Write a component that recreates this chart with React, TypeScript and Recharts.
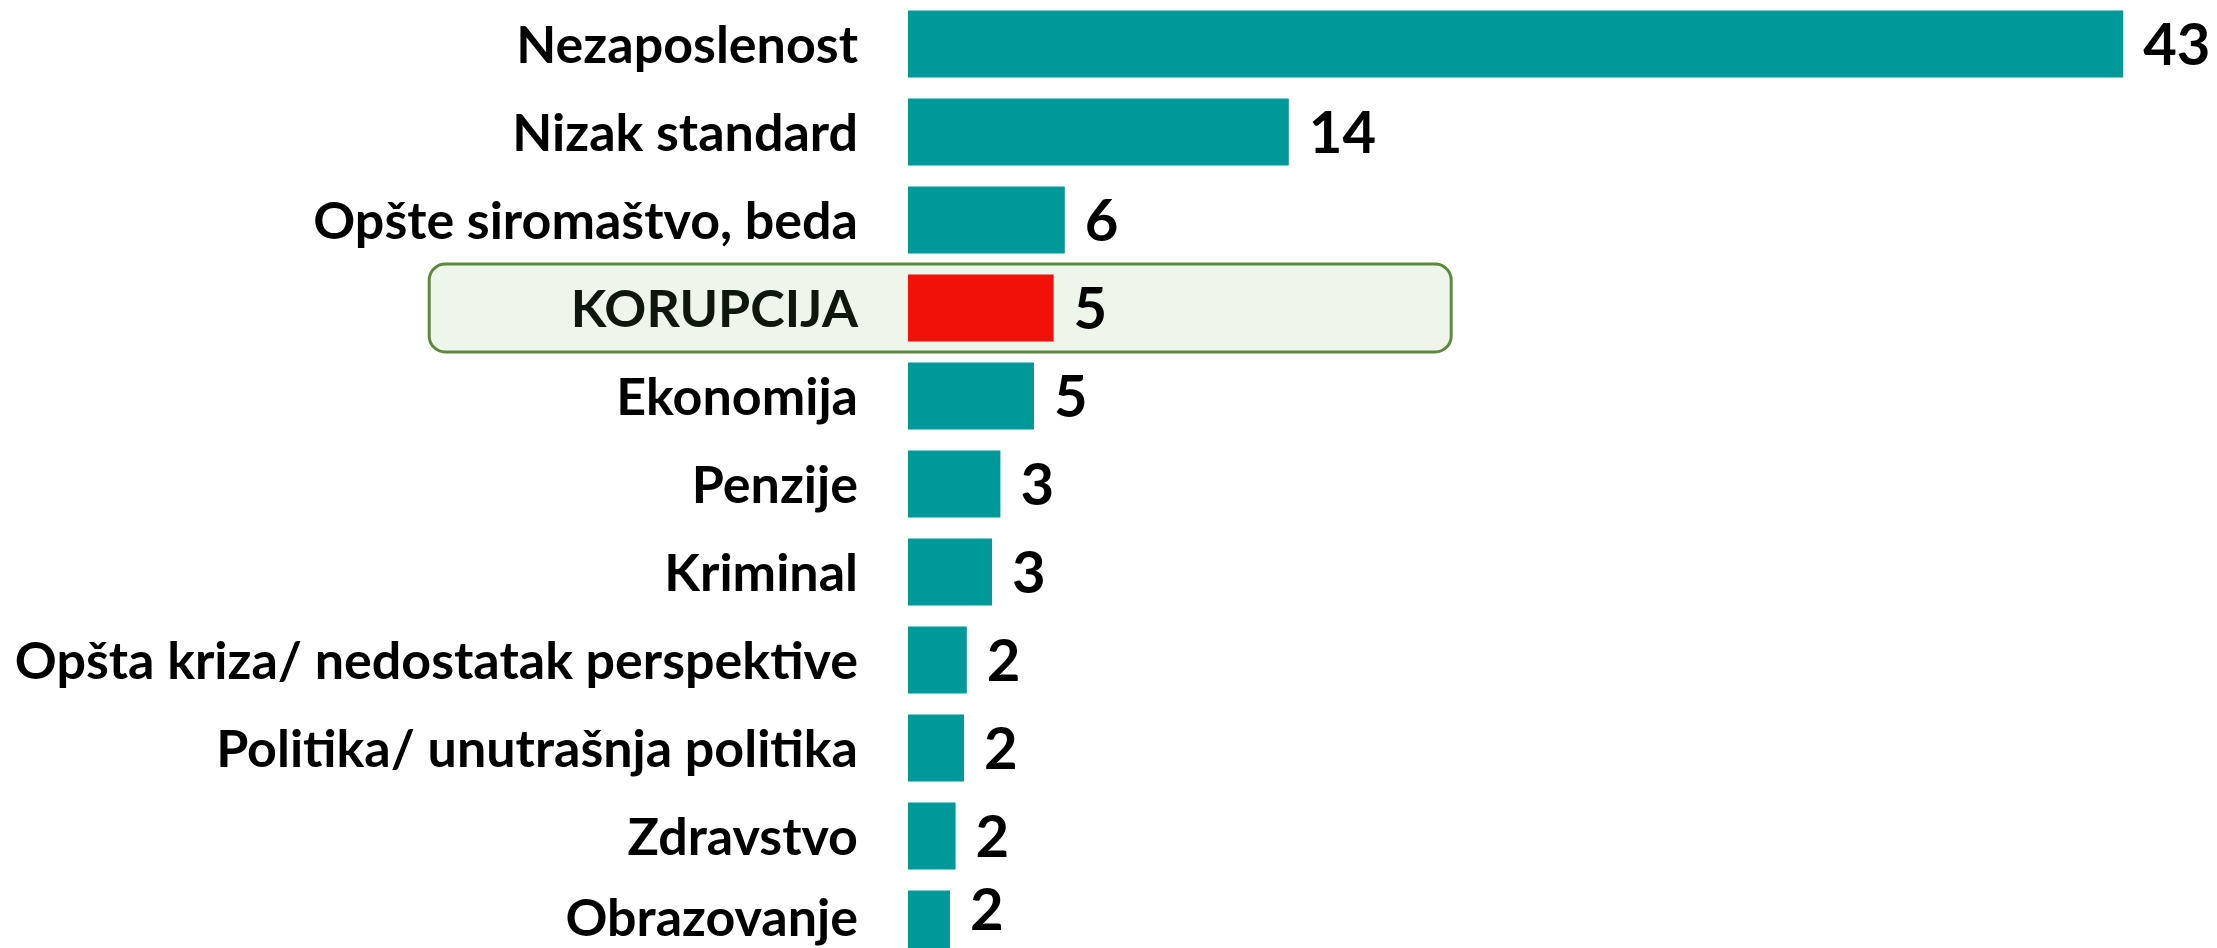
import React from 'react';
import { BarChart, Bar, XAxis, YAxis, Cell, LabelList, ReferenceArea } from 'recharts';

// problem categories, top to bottom
const categories = [
  'Nezaposlenost',
  'Nizak standard',
  'Opšte siromaštvo, beda',
  'KORUPCIJA',
  'Ekonomija',
  'Penzije',
  'Kriminal',
  'Opšta kriza/ nedostatak perspektive',
  'Politika/ unutrašnja politika',
  'Zdravstvo',
  'Obrazovanje',
];
// share in % (labels are rounded)
const shares = [43.4, 13.6, 5.6, 5.2, 4.5, 3.3, 3.0, 2.1, 2.0, 1.7, 1.5];
const highlighted = 'KORUPCIJA';
// horizontal extent of the highlight box, in axis units
const highlightFrom = -17.1;
const highlightTo = 19.4;

const data = categories.map((name, i) => ({ name, value: shares[i] }));

const FONT = 'Lato, "Open Sans", sans-serif';
const VISIBLE_H = 948;

const CategoryTick = (props: any) => {
  const { x, y, payload } = props;
  const isHi = payload.value === highlighted;
  // last row is cut by the page edge, keep its label readable
  const cy = Math.min(y, VISIBLE_H - 31);
  return (
    <text
      x={x}
      y={cy}
      dy="0.36em"
      textAnchor="end"
      fontFamily={FONT}
      fontWeight={700}
      fontSize={52}
      fill={isHi ? '#0d170b' : '#000'}
    >
      {payload.value}
    </text>
  );
};

// value label right of the bar; kept inside the visible area like the original
const ValueLabel = (props: any) => {
  const { x, y, width, height, value } = props;
  const cy = Math.min(y + height / 2, VISIBLE_H - 39);
  return (
    <text
      x={x + width + 20}
      y={cy}
      dy="0.36em"
      fontFamily={FONT}
      fontWeight={700}
      fontSize={58}
      fill="#000"
    >
      {Math.round(Number(value))}
    </text>
  );
};

const HighlightBox = (props: any) => (
  <rect
    x={props.x}
    y={props.y}
    width={props.width}
    height={props.height}
    rx={16}
    ry={16}
    fill="#eef5ea"
    stroke="#5b8a3c"
    strokeWidth={3}
  />
);

export default function App() {
  return (
    <div style={{ position: 'absolute', left: 0, top: 0, width: 2217, height: VISIBLE_H, overflow: 'hidden', background: '#fff' }}>
      <BarChart
        width={2217}
        height={968}
        data={data}
        layout="vertical"
        margin={{ top: 0, right: 21, bottom: 0, left: 0 }}
        barCategoryGap="12%"
      >
        <XAxis type="number" domain={[0, 46]} hide />
        <YAxis
          type="category"
          dataKey="name"
          width={908}
          interval={0}
          axisLine={false}
          tickLine={false}
          tickSize={0}
          tickMargin={50}
          tick={<CategoryTick />}
        />
        <ReferenceArea
          x1={highlightFrom}
          x2={highlightTo}
          y1={highlighted}
          y2={highlighted}
          ifOverflow="visible"
          shape={<HighlightBox />}
        />
        <Bar dataKey="value" isAnimationActive={false}>
          {data.map((d) => (
            <Cell key={d.name} fill={d.name === highlighted ? '#f01209' : '#009999'} />
          ))}
          <LabelList dataKey="value" content={<ValueLabel />} />
        </Bar>
      </BarChart>
    </div>
  );
}
